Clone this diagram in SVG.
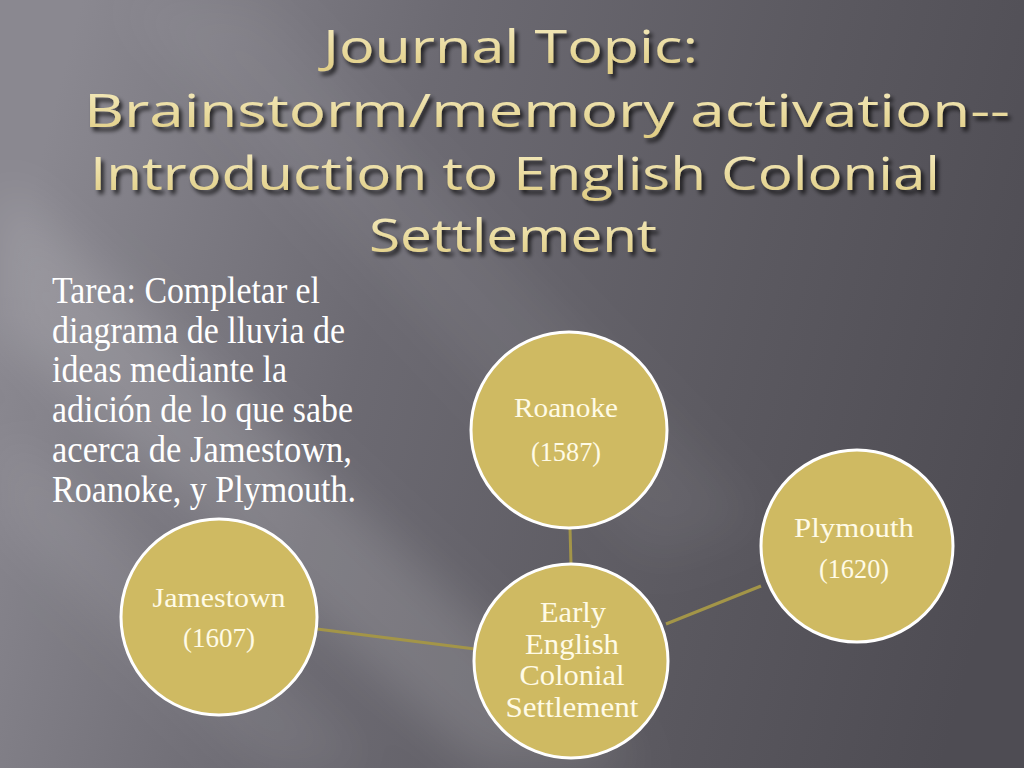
<svg xmlns="http://www.w3.org/2000/svg" width="1024" height="768" viewBox="0 0 1024 768">
<defs>
<linearGradient id="bg" x1="0" y1="0.4" x2="1" y2="0.6">
<stop offset="0" stop-color="#8a8890"/>
<stop offset="0.35" stop-color="#6c6a72"/>
<stop offset="0.7" stop-color="#5b5960"/>
<stop offset="1" stop-color="#4e4c53"/>
</linearGradient>
<linearGradient id="tg" x1="0" y1="0" x2="0" y2="1">
<stop offset="0" stop-color="#f7efc6"/>
<stop offset="1" stop-color="#dfcb80"/>
</linearGradient>
<filter id="sh" x="-10%" y="-20%" width="120%" height="150%">
<feGaussianBlur in="SourceAlpha" stdDeviation="2"/>
<feOffset dx="3" dy="4" result="b"/>
<feComponentTransfer><feFuncA type="linear" slope="0.75"/></feComponentTransfer>
<feMerge><feMergeNode/><feMergeNode in="SourceGraphic"/></feMerge>
</filter>
<filter id="blur"><feGaussianBlur stdDeviation="25"/></filter>
</defs>
<style>
.title{font-family:"Open Sans","Liberation Sans",sans-serif;font-size:46px;font-weight:500;fill:url(#tg)}
.body{font-family:"Liberation Serif","Times New Roman",serif;font-size:37px;fill:#ffffff}
.node circle{fill:#cfba62;stroke:#ffffff;stroke-width:3}
.node text{font-family:"Liberation Serif","Times New Roman",serif;fill:#fffbe6;text-anchor:middle}
.sm{font-size:27px}
.lg{font-size:29px}
.conn line{stroke:#a39548;stroke-width:3}
</style>
<rect width="1024" height="768" fill="url(#bg)"/>
<g filter="url(#blur)">
<polygon points="0,180 0,330 480,768 640,768" fill="#ffffff" opacity="0.14"/>
<polygon points="0,420 0,520 260,768 380,768" fill="#ffffff" opacity="0.08"/>
<polygon points="120,0 260,0 760,520 650,560" fill="#ffffff" opacity="0.06"/>
</g>
<g id="title" filter="url(#sh)">
<text class="title" x="323" y="63" textLength="375" lengthAdjust="spacingAndGlyphs">Journal Topic:</text>
<text class="title" x="84" y="127" textLength="926" lengthAdjust="spacingAndGlyphs">Brainstorm/memory activation--</text>
<text class="title" x="90" y="190" textLength="850" lengthAdjust="spacingAndGlyphs">Introduction to English Colonial</text>
<text class="title" x="369" y="252" textLength="288" lengthAdjust="spacingAndGlyphs">Settlement</text>
</g>
<g id="task">
<text class="body" x="52" y="303" textLength="268" lengthAdjust="spacingAndGlyphs">Tarea: Completar el</text>
<text class="body" x="52" y="343" textLength="293" lengthAdjust="spacingAndGlyphs">diagrama de lluvia de</text>
<text class="body" x="52" y="382" textLength="235" lengthAdjust="spacingAndGlyphs">ideas mediante la</text>
<text class="body" x="52" y="422" textLength="301" lengthAdjust="spacingAndGlyphs">adición de lo que sabe</text>
<text class="body" x="52" y="462" textLength="300" lengthAdjust="spacingAndGlyphs">acerca de Jamestown,</text>
<text class="body" x="52" y="502" textLength="304" lengthAdjust="spacingAndGlyphs">Roanoke, y Plymouth.</text>
</g>
<g class="conn" id="connectors">
<line x1="570" y1="528" x2="571" y2="564"/>
<line x1="317" y1="629" x2="475" y2="649"/>
<line x1="761" y1="586" x2="666" y2="624"/>
</g>
<g class="node" id="roanoke">
<circle cx="569" cy="430" r="98"/>
<text class="sm" x="566" y="417" textLength="104" lengthAdjust="spacingAndGlyphs">Roanoke</text>
<text class="sm" x="566" y="461" textLength="70" lengthAdjust="spacingAndGlyphs">(1587)</text>
</g>
<g class="node" id="jamestown">
<circle cx="219" cy="617" r="98"/>
<text class="sm" x="219" y="607" textLength="133" lengthAdjust="spacingAndGlyphs">Jamestown</text>
<text class="sm" x="219" y="647" textLength="72" lengthAdjust="spacingAndGlyphs">(1607)</text>
</g>
<g class="node" id="plymouth">
<circle cx="857" cy="546" r="96"/>
<text class="sm" x="854" y="537" textLength="120" lengthAdjust="spacingAndGlyphs">Plymouth</text>
<text class="sm" x="854" y="578" textLength="70" lengthAdjust="spacingAndGlyphs">(1620)</text>
</g>
<g class="node" id="center">
<circle cx="571" cy="661" r="97"/>
<text class="lg" x="573" y="622" textLength="66" lengthAdjust="spacingAndGlyphs">Early</text>
<text class="lg" x="572" y="654" textLength="94" lengthAdjust="spacingAndGlyphs">English</text>
<text class="lg" x="572" y="685" textLength="105" lengthAdjust="spacingAndGlyphs">Colonial</text>
<text class="lg" x="572" y="717" textLength="133" lengthAdjust="spacingAndGlyphs">Settlement</text>
</g>
</svg>
